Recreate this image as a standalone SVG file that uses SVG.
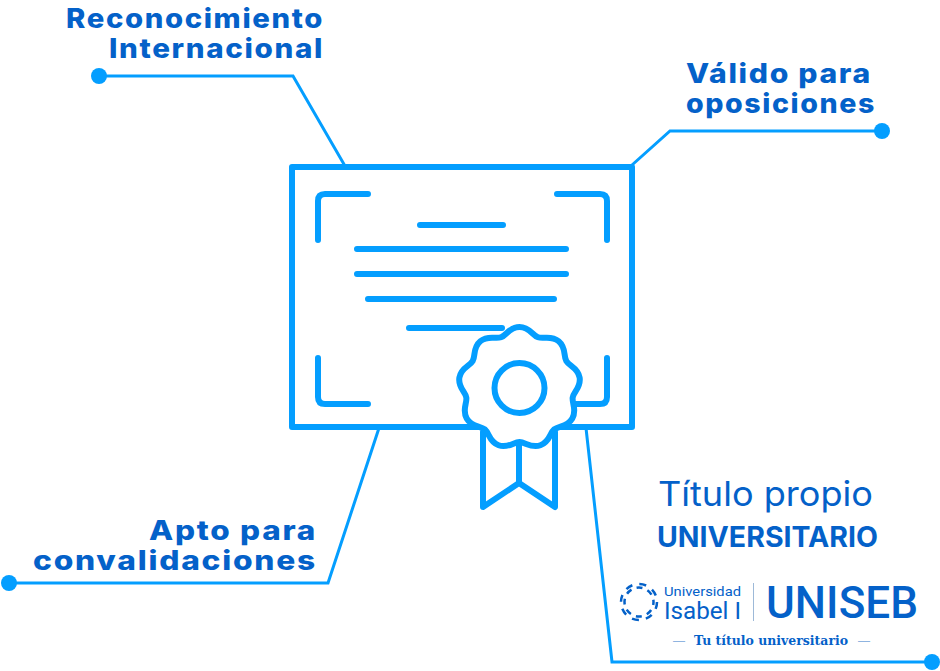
<svg xmlns="http://www.w3.org/2000/svg" width="940" height="671" viewBox="0 0 940 671">
<style>
.conn{fill:none;stroke:#049eff;stroke-width:3}
.dot{fill:#049eff}
.ic{fill:none;stroke:#049eff;stroke-width:6;stroke-linecap:round;stroke-linejoin:round}
.lab{font-family:"Inter","Liberation Sans",sans-serif;font-weight:800;font-size:27px;fill:#0461c9;letter-spacing:1.5px}
.logo{fill:#0461c9;font-family:"Roboto","Liberation Sans",sans-serif}
.ttl{font-family:"Inter","Liberation Sans",sans-serif}
</style>
<rect width="940" height="671" fill="#fff"/>
<g id="connectors">
<polyline class="conn" points="99,76 293,76 345,166"/>
<circle class="dot" cx="99" cy="76" r="8"/>
<polyline class="conn" points="882,131 670,131 632,165"/>
<circle class="dot" cx="882" cy="131" r="8"/>
<polyline class="conn" points="9,583 328,583 379,428"/>
<circle class="dot" cx="9" cy="583" r="8"/>
<polyline class="conn" points="932,662 612,662 586,428"/>
<circle class="dot" cx="932" cy="662" r="8"/>
</g>
<g id="certificate">
<rect class="ic" x="292" y="167" width="340" height="260" fill="#fff"/>
<path class="ic" d="M368,194H325Q318,194 318,201V240M557,194H600Q607,194 607,201V240M318,358V397Q318,404 325,404H368M607,358V397Q607,404 600,404H570"/>
<path class="ic" d="M420,225H503M357,249H566M357,274H566M368,299H554M409,328H502"/>
</g>
<g id="seal">
<path class="ic" d="M483,432V507L519,483L555,507V432M519,445V483"/>
<path class="ic" style="fill:#fff" d="M519.5,327C529.5,327 532.4,335.25 538,337.3S551,334.9 558.7,341.3S563.3,355.8 566.3,361S577.9,367.6 579.6,377.4S573.7,391.5 572.7,397.4S577.3,409.8 572.3,418.5S558.8,425.5 554.2,429.4S549.8,441.9 540.4,445.3S525.5,442 519.5,442S508,448.7 498.6,445.3S489.4,433.3 484.8,429.4S471.7,427.2 466.7,418.5S467.3,403.3 466.3,397.4S457.7,387.3 459.4,377.4S469.7,366.2 472.7,361S472.6,347.7 480.3,341.3S495.4,339.35 501,337.3S509.5,327 519.5,327Z"/>
<circle class="ic" cx="519.5" cy="388" r="25"/>
</g>
<g id="label-reconocimiento">
<text class="lab" x="66" y="28" textLength="258" lengthAdjust="spacingAndGlyphs">Reconocimiento</text>
<text class="lab" x="109" y="58" textLength="215" lengthAdjust="spacingAndGlyphs">Internacional</text>
</g>
<g id="label-valido">
<text class="lab" x="686" y="83" textLength="186" lengthAdjust="spacingAndGlyphs">Válido para</text>
<text class="lab" x="686" y="113" textLength="190" lengthAdjust="spacingAndGlyphs">oposiciones</text>
</g>
<g id="label-apto">
<text class="lab" x="149" y="540" textLength="168" lengthAdjust="spacingAndGlyphs">Apto para</text>
<text class="lab" x="33" y="570" textLength="284" lengthAdjust="spacingAndGlyphs">convalidaciones</text>
</g>
<g id="logo">
<text class="logo ttl" x="658" y="506" font-size="34" textLength="215" lengthAdjust="spacingAndGlyphs">Título propio</text>
<text class="logo ttl" x="657" y="547" font-size="28" font-weight="700" textLength="221" lengthAdjust="spacingAndGlyphs">UNIVERSITARIO</text>
<g fill="none" stroke="#0461c9" stroke-width="2.5">
<circle cx="639" cy="602" r="18" stroke-dasharray="7 7.1"/>
<circle cx="639" cy="602" r="14.5" stroke-dasharray="6 5.4" stroke-dashoffset="3"/>
</g>
<text class="logo" x="664" y="596" font-size="13" textLength="77" lengthAdjust="spacingAndGlyphs">Universidad</text>
<text class="logo" x="664" y="619" font-size="23" textLength="77" lengthAdjust="spacingAndGlyphs">Isabel I</text>
<rect x="753" y="583" width="1" height="38" fill="#9db9d8"/>
<text class="logo" x="766" y="618" font-size="44" font-weight="500" textLength="152">UNISEB</text>
<text x="673" y="645" font-size="12" fill="#8fb4e0" font-family="Liberation Sans, sans-serif">—</text>
<text x="694" y="645" font-size="12.5" font-weight="700" fill="#0461c9" font-family="DejaVu Serif, serif" textLength="154" lengthAdjust="spacingAndGlyphs">Tu título universitario</text>
<text x="858" y="645" font-size="12" fill="#8fb4e0" font-family="Liberation Sans, sans-serif">—</text>
</g>
</svg>
